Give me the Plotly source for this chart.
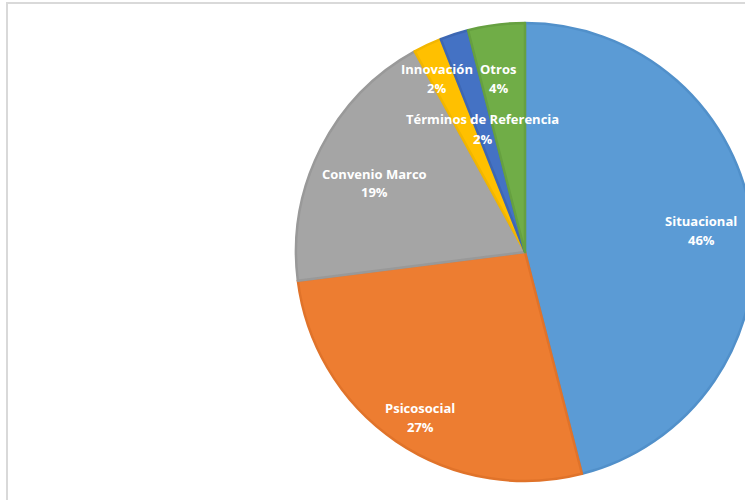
import plotly.graph_objects as go

# Distribution by category (percent)
categories = ["Situacional", "Psicosocial", "Convenio Marco", "Innovación",
              "Términos de Referencia", "Otros"]
shares = [46, 27, 19, 2, 2, 4]

fill_colors = ["#5B9BD5", "#ED7D31", "#A5A5A5", "#FFC000", "#4472C4", "#70AD47"]
edge_colors = ["#5190CA", "#E0732A", "#999999", "#F2B600", "#3D67B3", "#66A040"]

W, H = 760, 500  # canvas is a bit wider than the window so the pie runs off the right edge

# label anchor points in pixels (name line, value line)
label_px = [
    (701, 221, 240),
    (420, 408, 427),
    (374, 174, 192),
    (437, 69, 88),
    (482, 119, 139),
    (498, 69, 88),
]

fig = go.Figure(
    go.Pie(
        labels=categories,
        values=shares,
        sort=False,
        direction="clockwise",
        rotation=0,
        marker=dict(colors=fill_colors, line=dict(color=edge_colors, width=2.5)),
        textinfo="none",
        hoverinfo="label+percent",
        showlegend=False,
        domain=dict(x=[296 / W, 754 / W], y=[(H - 481) / H, (H - 23) / H]),
    )
)

font = dict(family="'Open Sans', Lato, sans-serif", size=13, color="white")
total = sum(shares)
for name, val, (px, py1, py2) in zip(categories, shares, label_px):
    fig.add_annotation(x=px / W, y=1 - py1 / H, xref="paper", yref="paper",
                       text=f"<b>{name}</b>", showarrow=False, font=font,
                       xanchor="center", yanchor="middle")
    fig.add_annotation(x=px / W, y=1 - py2 / H, xref="paper", yref="paper",
                       text=f"<b>{round(val / total * 100)}%</b>", showarrow=False, font=font,
                       xanchor="center", yanchor="middle")

# chart-area frame
fig.add_shape(type="rect", xref="paper", yref="paper",
              x0=7 / W, x1=1.2, y0=-0.2, y1=1 - 3 / H,
              line=dict(color="#D9D9D9", width=2), fillcolor="rgba(0,0,0,0)", layer="below")

fig.update_layout(
    width=W, height=H,
    margin=dict(l=0, r=0, t=0, b=0),
    paper_bgcolor="white",
    plot_bgcolor="white",
)

fig.write_html(
    "out.html",
    post_script="document.documentElement.style.overflow='hidden';document.body.style.overflow='hidden';document.body.style.margin='0';",
)
